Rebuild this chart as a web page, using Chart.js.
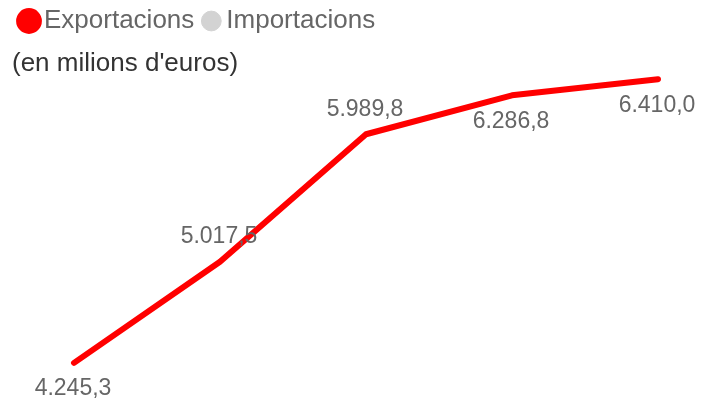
<!DOCTYPE html>
<html>
<head>
<meta charset="utf-8">
<script src="https://cdn.jsdelivr.net/npm/chart.js@4/dist/chart.umd.min.js"></script>
<style>
  html, body { margin: 0; padding: 0; background: #fff; }
  #wrap { width: 705px; height: 403px; }
</style>
</head>
<body>
<div id="wrap"><canvas id="chart"></canvas></div>
<script>
// dades
var anys = ['1', '2', '3', '4', '5'];
var exportacions = [4245.3, 5017.5, 5989.8, 6286.8, 6410.0];
var importacions = [];

// on va l'etiqueta de cada punt: 1 = a sota, -1 = a sobre
var posEtiqueta = [1, -1, -1, 1, 1];

function formatCa(v) {
  var parts = v.toFixed(1).split('.');
  var ent = parts[0].replace(/\B(?=(\d{3})+(?!\d))/g, '.');
  return ent + ',' + parts[1];
}

var etiquetes = {
  id: 'etiquetes',
  afterDatasetsDraw: function(chart) {
    var ctx = chart.ctx;
    var meta = chart.getDatasetMeta(0);
    ctx.save();
    ctx.font = '23px "Liberation Sans", Arial, sans-serif';
    ctx.fillStyle = '#666666';
    ctx.textAlign = 'center';
    ctx.textBaseline = 'middle';
    meta.data.forEach(function(pt, i) {
      var dy = posEtiqueta[i] > 0 ? 26 : -25;
      ctx.fillText(formatCa(exportacions[i]), pt.x - 1, pt.y + dy);
    });
    ctx.restore();
  }
};

Chart.defaults.font.family = '"Liberation Sans", Arial, sans-serif';

new Chart(document.getElementById('chart'), {
  type: 'line',
  data: {
    labels: anys,
    datasets: [{
      label: 'Exportacions',
      data: exportacions,
      borderColor: '#ff0000',
      backgroundColor: '#ff0000',
      borderWidth: 6,
      borderCapStyle: 'round',
      borderJoinStyle: 'round',
      pointRadius: 0,
      pointHoverRadius: 0,
      tension: 0,
      clip: false
    }, {
      label: 'Importacions',
      data: importacions,
      borderColor: '#d3d3d3',
      backgroundColor: '#d3d3d3',
      pointRadius: 0
    }]
  },
  options: {
    responsive: true,
    maintainAspectRatio: false,
    animation: false,
    layout: { padding: { left: 12, right: 47, top: -7, bottom: 8 } },
    plugins: {
      legend: {
        display: true,
        position: 'top',
        align: 'start',
        weight: 3000,
        labels: {
          usePointStyle: true,
          pointStyle: 'circle',
          boxWidth: 4,
          boxHeight: 14,
          padding: 15,
          color: '#666666',
          font: { size: 26 }
        }
      },
      subtitle: {
        display: true,
        text: "(en milions d'euros)",
        align: 'start',
        color: '#333333',
        font: { size: 26, weight: 'normal' },
        padding: { top: 4, bottom: 0 }
      },
      tooltip: { enabled: false }
    },
    scales: {
      x: {
        display: false,
        offset: false
      },
      y: {
        min: 4000,
        max: 6410,
        grid: { display: false },
        border: { display: false },
        ticks: { display: false },
        afterFit: function(s) { s.width = 62; }
      }
    }
  },
  plugins: [etiquetes]
});
</script>
</body>
</html>
